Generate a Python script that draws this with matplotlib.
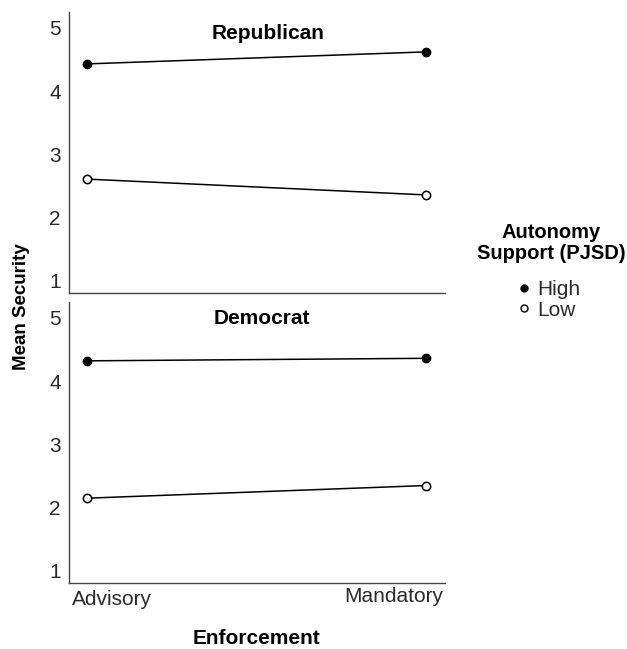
import matplotlib.pyplot as plt
from matplotlib.lines import Line2D
from matplotlib.transforms import ScaledTranslation

plt.rcParams['font.family'] = ['Liberation Sans', 'DejaVu Sans']

# Data
enforcement = ['Advisory', 'Mandatory']
panels = ['Republican', 'Democrat']
high_means = {'Republican': [4.43, 4.62], 'Democrat': [4.32, 4.36]}
low_means = {'Republican': [2.61, 2.36], 'Democrat': [2.15, 2.35]}
y_ticks = [1, 2, 3, 4, 5]

fig = plt.figure(figsize=(6.27, 6.49), dpi=100)
ax_top = fig.add_axes([0.110, 0.5485, 0.600, 0.433])
ax_bot = fig.add_axes([0.110, 0.1017, 0.600, 0.433])

x = list(range(len(enforcement)))
title_y = {'Republican': 0.925, 'Democrat': 0.94}
title_x = {'Republican': 0.529, 'Democrat': 0.514}
spine_color = '#444444'

for ax, name in zip([ax_top, ax_bot], panels):
    ax.plot(x, high_means[name], color='black', lw=1.1, marker='o', ms=6,
            mfc='black', mec='black', zorder=3)
    ax.plot(x, low_means[name], color='black', lw=1.1, marker='o', ms=6,
            mfc='white', mec='black', mew=1.1, zorder=3)
    ax.set_xlim(-0.053, 1.056)
    ax.set_ylim(0.81, 5.25)
    ax.set_yticks(y_ticks)
    ax.tick_params(axis='both', length=0, labelsize=15, colors='#2a2a2a')
    ax.tick_params(axis='y', pad=6)
    ax.tick_params(axis='x', pad=5)
    for side in ['top', 'right']:
        ax.spines[side].set_visible(False)
    for side in ['left', 'bottom']:
        ax.spines[side].set_color(spine_color)
        ax.spines[side].set_linewidth(1.0)
    ax.text(title_x[name], title_y[name], name, transform=ax.transAxes,
            ha='center', va='center', fontsize=15, fontweight='bold')

ax_top.set_xticks(x)
ax_top.set_xticklabels([])
ax_bot.set_xticks(x)
ax_bot.set_xticklabels(enforcement)

# SPSS style: first label left-aligned, last right-aligned near the axis ends
labels = ax_bot.get_xticklabels()
labels[0].set_horizontalalignment('left')
labels[0].set_transform(labels[0].get_transform() + ScaledTranslation(-0.15, 0, fig.dpi_scale_trans))
labels[1].set_horizontalalignment('right')
labels[1].set_transform(labels[1].get_transform() + ScaledTranslation(0.17, 0.03, fig.dpi_scale_trans))

fig.text(0.035, 1 - 307 / 649, 'Mean Security', rotation=90, ha='center', va='center',
         fontsize=13.5, fontweight='bold')
fig.text(257 / 627, 1 - 638 / 649, 'Enforcement', ha='center', va='center',
         fontsize=15, fontweight='bold')

# legend: title and entries placed separately to keep the gap between them
fig.text(551 / 627, 1 - 243 / 649, 'Autonomy\nSupport (PJSD)', ha='center', va='center',
         multialignment='center', fontsize=14.5, fontweight='bold', linespacing=1.1)
handles = [
    Line2D([0], [0], ls='none', marker='o', ms=5, mfc='black', mec='black', label='High'),
    Line2D([0], [0], ls='none', marker='o', ms=5, mfc='white', mec='black', mew=1.0, label='Low'),
]
leg = fig.legend(handles=handles, loc='center', bbox_to_anchor=(549 / 627, 1 - 300 / 649),
                 frameon=False, fontsize=15, handlelength=0.6, handletextpad=0.35,
                 labelspacing=0.05, borderpad=0)
for t in leg.get_texts():
    t.set_color('#2a2a2a')

fig.savefig('out.png', dpi=100)
